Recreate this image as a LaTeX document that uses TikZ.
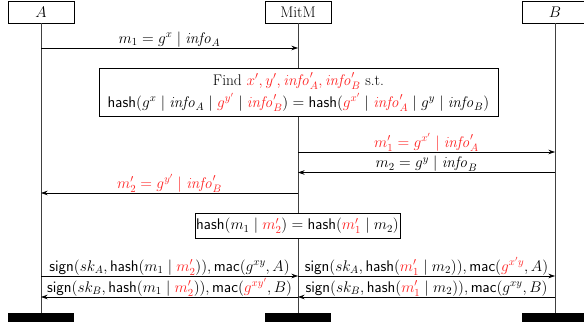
\RequirePackage{fix-cm}
\documentclass[tikz,border=0pt]{standalone}
\usetikzlibrary{arrows.meta}
\definecolor{mred}{RGB}{255,35,35}
\newcommand{\info}{\mathit{info}}
\newcommand{\R}[1]{\textcolor{mred}{#1}}
\tikzset{
  hdr/.style={draw, line width=0.6pt, minimum width=66pt, minimum height=22pt, inner sep=0pt},
  bar/.style={fill=black, minimum width=66pt, minimum height=9pt, inner sep=0pt},
  life/.style={line width=0.6pt, draw=black!75},
  msg/.style={line width=0.6pt, -{Stealth[length=6.5pt,width=4.5pt]}},
  lbl/.style={above, inner sep=0.5pt},
  abox/.style={draw, line width=0.6pt, fill=white, inner sep=0pt, align=center}
}
\begin{document}
\begin{tikzpicture}[x=1pt,y=-1pt,font=\fontsize{15.4}{22}\selectfont]
\useasboundingbox (0,0) rectangle (584,328);
% headers
\node[hdr] (hA) at (41,12) {$A$};
\node[hdr] (hM) at (298,12) {MitM};
\node[hdr] (hB) at (555,12) {$B$};
% bars
\node[bar] (bA) at (41,317.5) {};
\node[bar] (bM) at (298,317.5) {};
\node[bar] (bB) at (555,317.5) {};
% lifelines
\draw[life] (hA.south) -- (bA.north);
\draw[life] (hM.south) -- (bM.north);
\draw[life] (hB.south) -- (bB.north);
% message endpoints
\coordinate (A1) at (41,48);   \coordinate (M1) at (298,48);
\coordinate (M2) at (298,152); \coordinate (B2) at (555,152);
\coordinate (M3) at (298,172.5); \coordinate (B3) at (555,172.5);
\coordinate (M4) at (298,193); \coordinate (A4) at (41,193);
\coordinate (A5) at (41,276); \coordinate (M5) at (298,276); \coordinate (B5) at (555,276);
\coordinate (A6) at (41,297); \coordinate (M6) at (298,297); \coordinate (B6) at (555,297);
% messages
\draw[msg] (A1) -- node[lbl] {$m_1 = g^x \mid \info_A$} (M1);
\node[abox, minimum width=399pt, minimum height=48pt] (find) at (298.5,92)
  {Find $\R{x', y', \info'_A, \info'_B}$ s.t.\\
   $\mathsf{hash}(g^x \mid \info_A \mid \R{g^{y'}} \mid \R{\info'_B}) = \mathsf{hash}(\R{g^{x'}} \mid \R{\info'_A} \mid g^y \mid \info_B)$};
\draw[msg] (M2) -- node[lbl] {$\R{m'_1 = g^{x'} \mid \info'_A}$} (B2);
\draw[msg] (B3) -- node[lbl] {$m_2 = g^{y} \mid \info_B$} (M3);
\draw[msg] (M4) -- node[lbl] {$\R{m'_2 = g^{y'} \mid \info'_B}$} (A4);
\node[abox, minimum width=205pt, minimum height=25.5pt] (hbox) at (297.5,226)
  {$\mathsf{hash}(m_1 \mid \R{m'_2}) = \mathsf{hash}(\R{m'_1} \mid m_2)$};
\draw[msg] (A5) -- node[lbl] {$\mathsf{sign}(sk_A, \mathsf{hash}(m_1 \mid \R{m'_2})), \mathsf{mac}(g^{xy}, A)$} (M5);
\draw[msg] (M5) -- node[lbl] {$\mathsf{sign}(sk_A, \mathsf{hash}(\R{m'_1} \mid m_2)), \mathsf{mac}(\R{g^{x'y}}, A)$} (B5);
\draw[msg] (M6) -- node[lbl] {$\mathsf{sign}(sk_B, \mathsf{hash}(m_1 \mid \R{m'_2})), \mathsf{mac}(\R{g^{xy'}}, B)$} (A6);
\draw[msg] (B6) -- node[lbl] {$\mathsf{sign}(sk_B, \mathsf{hash}(\R{m'_1} \mid m_2)), \mathsf{mac}(g^{xy}, B)$} (M6);
\end{tikzpicture}
\end{document}
